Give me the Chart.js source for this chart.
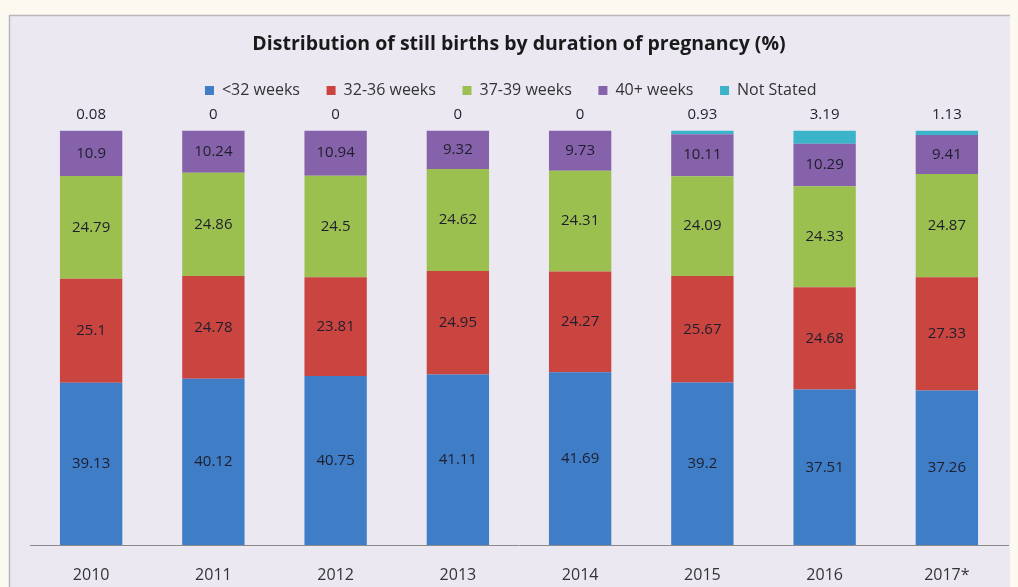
<!DOCTYPE html>
<html>
<head>
<meta charset="utf-8">
<script src="https://cdn.jsdelivr.net/npm/chart.js@4"></script>
<style>
  html, body { margin: 0; padding: 0; background: #fcf9f1; }
  #wrap { position: relative; width: 1018px; height: 587px; }
</style>
</head>
<body>
<div id="wrap"><canvas id="stillBirths" width="1018" height="587"></canvas></div>
<script>
// Years along the x axis
const years = ['2010', '2011', '2012', '2013', '2014', '2015', '2016', '2017*'];

// Percent of still births per duration group
const under32 = [39.13, 40.12, 40.75, 41.11, 41.69, 39.2, 37.51, 37.26];
const weeks32to36 = [25.1, 24.78, 23.81, 24.95, 24.27, 25.67, 24.68, 27.33];
const weeks37to39 = [24.79, 24.86, 24.5, 24.62, 24.31, 24.09, 24.33, 24.87];
const weeks40plus = [10.9, 10.24, 10.94, 9.32, 9.73, 10.11, 10.29, 9.41];
const notStated = [0.08, 0, 0, 0, 0, 0.93, 3.19, 1.13];

// Draws the grey-lavender panel behind the chart
const panelPlugin = {
  id: 'panel',
  beforeDraw(chart) {
    const ctx = chart.ctx;
    ctx.save();
    ctx.fillStyle = '#ebe8f2';
    ctx.fillRect(9, 15, 1001, 572);
    ctx.strokeStyle = '#b9b6bd';
    ctx.lineWidth = 1.5;
    ctx.beginPath();
    ctx.moveTo(9.5, 587);
    ctx.lineTo(9.5, 15.5);
    ctx.lineTo(1010, 15.5);
    ctx.stroke();
    ctx.restore();
  }
};

// Adds a gap below the legend
const legendGap = {
  id: 'legendGap',
  beforeInit(chart) {
    const fit = chart.legend.fit;
    chart.legend.fit = function () {
      fit.bind(chart.legend)();
      this.height += 22;
    };
  }
};

// Value labels: inside each segment, "Not Stated" above the bar
const valueLabels = {
  id: 'valueLabels',
  afterDatasetsDraw(chart) {
    const ctx = chart.ctx;
    ctx.save();
    ctx.font = '15px "Open Sans"';
    ctx.fillStyle = '#1e1e2e';
    ctx.textAlign = 'center';
    ctx.textBaseline = 'middle';
    chart.data.datasets.forEach(function (ds, i) {
      const meta = chart.getDatasetMeta(i);
      meta.data.forEach(function (bar, j) {
        const v = ds.data[j];
        if (i === 4) {
          ctx.fillText(String(v), bar.x, Math.min(bar.y, bar.base) - 16);
        } else {
          ctx.fillText(String(v), bar.x, (bar.y + bar.base) / 2);
        }
      });
    });
    ctx.restore();
  }
};

new Chart(document.getElementById('stillBirths'), {
  type: 'bar',
  data: {
    labels: years,
    datasets: [
      { label: '<32 weeks', data: under32, backgroundColor: '#3f7dc6' },
      { label: '32-36 weeks', data: weeks32to36, backgroundColor: '#cb4540' },
      { label: '37-39 weeks', data: weeks37to39, backgroundColor: '#9cc04f' },
      { label: '40+ weeks', data: weeks40plus, backgroundColor: '#8562a9' },
      { label: 'Not Stated', data: notStated, backgroundColor: '#3bb3c8' }
    ]
  },
  options: {
    responsive: false,
    animation: false,
    layout: { padding: { top: 25, left: 30, right: 10, bottom: 0 } },
    datasets: { bar: { categoryPercentage: 1, barPercentage: 0.51 } },
    plugins: {
      title: {
        display: true,
        text: 'Distribution of still births by duration of pregnancy (%)',
        color: '#1a1a1a',
        font: { family: 'Open Sans', size: 19.5, weight: 'bold' },
        padding: { top: 8, bottom: 16 }
      },
      legend: {
        position: 'top',
        labels: {
          boxWidth: 9,
          boxHeight: 9,
          padding: 10,
          color: '#333333',
          font: { family: 'Open Sans', size: 16 },
          generateLabels(chart) {
            // default items, with wider spacing between them
            const items = Chart.defaults.plugins.legend.labels.generateLabels(chart);
            items.forEach(function (it) { it.text = it.text + '    '; });
            return items;
          }
        }
      },
      tooltip: { enabled: false }
    },
    scales: {
      x: {
        stacked: true,
        grid: { display: false, drawTicks: false },
        border: { display: true, color: '#8a8a8a', width: 1 },
        ticks: { color: '#333333', padding: 21, font: { family: 'Open Sans', size: 16 } },
        afterFit(scale) {
          scale.height = 42;
        }
      },
      y: {
        stacked: true,
        display: false,
        min: 0,
        max: 100
      }
    }
  },
  plugins: [panelPlugin, legendGap, valueLabels]
});
</script>
</body>
</html>
